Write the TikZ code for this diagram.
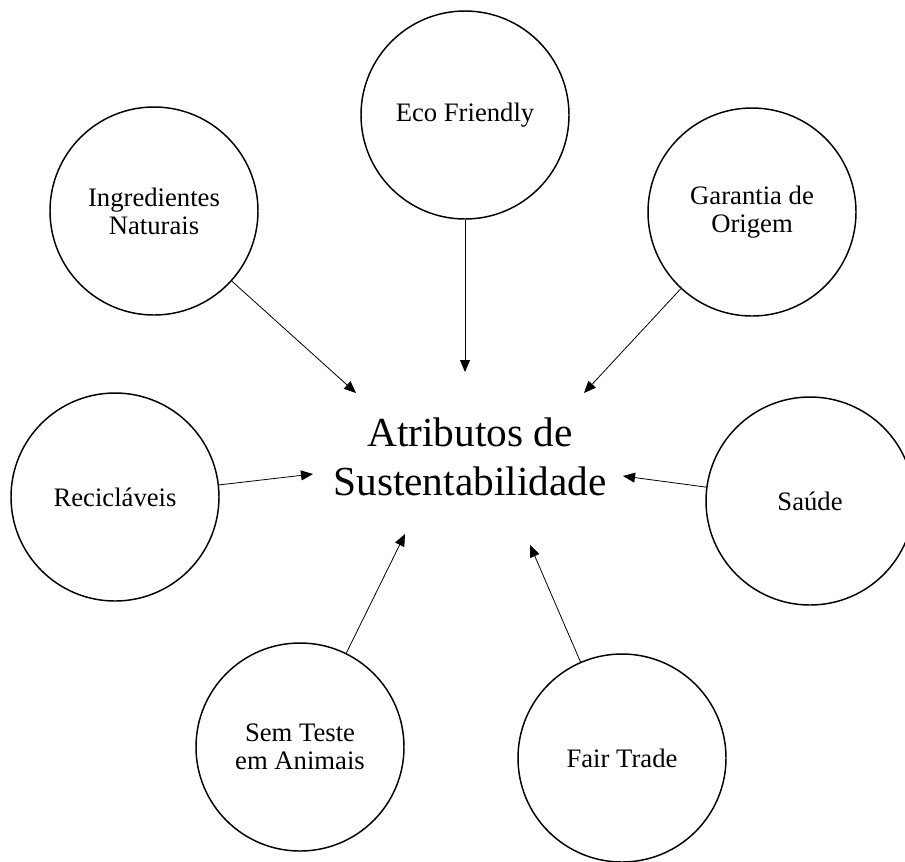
\documentclass[tikz,border=0pt]{standalone}
\usepackage{fontspec}
\setmainfont{Liberation Serif}
\usetikzlibrary{arrows.meta}

\begin{document}
\begin{tikzpicture}[x=0.75pt, y=-0.75pt, line width=0.6pt,
    bubble/.style={circle, draw, line width=1.1pt, minimum size=156pt,
      inner sep=0pt, align=center, font=\fontsize{20}{21}\selectfont}]
    \useasboundingbox (0,0) rectangle (905,861);

    \node(atrib) at (470,457) [align=center, font=\fontsize{31}{37}\selectfont]
      {Atributos de\\Sustentabilidade};

    \node[bubble](eco)   at (465,115) {Eco Friendly};
    \node[bubble](ingr)  at (154,211) {Ingredientes\\Naturais};
    \node[bubble](gar)   at (752,212) {Garantia de\\Origem};
    \node[bubble](recic) at (115,497) {Recicláveis};
    \node[bubble](saude) at (810,501) {Saúde};
    \node[bubble](teste) at (300,747) {Sem Teste\\em Animais};
    \node[bubble](fair)  at (622,758) {Fair Trade};

    \coordinate(t1) at (465,372);
    \coordinate(t2) at (356,393);
    \coordinate(t3) at (584,393);
    \coordinate(t4) at (313,474);
    \coordinate(t5) at (623,476);
    \coordinate(t6) at (405,534);
    \coordinate(t7) at (530,545);

    \draw[-{Triangle[length=9pt, width=7.5pt]}]
              (eco) edge (t1)
              (ingr) edge (t2)
              (gar) edge (t3)
              (recic) edge (t4)
              (saude) edge (t5)
              (teste) edge (t6)
              (fair) edge (t7);
  \end{tikzpicture}
\end{document}
